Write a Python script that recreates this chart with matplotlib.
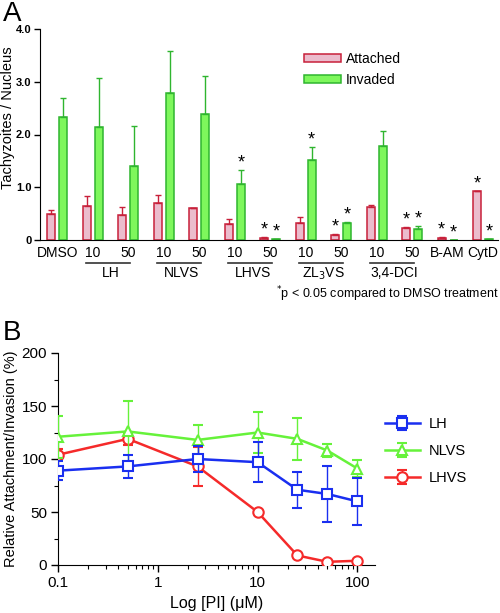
import matplotlib
matplotlib.use("Agg")
import matplotlib.pyplot as plt
import numpy as np
from matplotlib.ticker import MultipleLocator, LogLocator, NullFormatter, FixedLocator, FixedFormatter
import matplotlib.transforms as mtransforms

plt.rcParams['font.family'] = ['Liberation Sans', 'DejaVu Sans']

# ---- Panel A data ----
tick_labels = ["DMSO", "10", "50", "10", "50", "10", "50", "10", "50", "10", "50", "B-AM", "CytD"]
group_names = ["LH", "NLVS", "LHVS", "ZL$_3$VS", "3,4-DCI"]
group_start = [1, 3, 5, 7, 9]
attached = [0.49, 0.64, 0.47, 0.70, 0.60, 0.31, 0.04, 0.32, 0.09, 0.62, 0.22, 0.04, 0.92]
attached_err = [0.08, 0.20, 0.16, 0.16, 0.01, 0.08, 0.01, 0.11, 0.03, 0.05, 0.02, 0.01, 0.01]
invaded = [2.34, 2.15, 1.40, 2.79, 2.39, 1.06, 0.015, 1.52, 0.32, 1.79, 0.21, 0.005, 0.02]
invaded_err = [0.35, 0.92, 0.76, 0.80, 0.72, 0.27, 0.005, 0.24, 0.02, 0.27, 0.05, 0.0, 0.005]
attached_sig = [0, 0, 0, 0, 0, 0, 1, 0, 1, 0, 1, 1, 1]
invaded_sig = [0, 0, 0, 0, 0, 1, 1, 1, 1, 0, 1, 1, 1]

# ---- Panel B data ----
conc = [0.1, 0.5, 2.5, 10, 25, 50, 100]
lh = [89, 93, 100, 97, 71, 67, 60]
lh_err = [9, 11, 12, 19, 17, 26, 22]
nlvs = [121, 126, 118, 125, 119, 108, 91]
nlvs_err = [20, 29, 14, 19, 20, 6, 8]
lhvs = [104, 119, 93, 50, 9, 3, 4]
lhvs_err = [5, 6, 18, 2, 1, 1, 1]

att_face, att_edge = "#ebbccd", "#c8203a"
inv_face, inv_edge = "#7ef75c", "#2fb52f"

fig = plt.figure(figsize=(5.0, 6.13), dpi=100)

# ================= Panel A =================
ax1 = fig.add_axes([40/500, 1-240/613, 458/500, 211/613])
x = np.arange(len(tick_labels))
w = 0.23
off = 0.17
ax1.bar(x - off, attached, w, color=att_face, edgecolor=att_edge, linewidth=1.1,
        yerr=[np.zeros(len(x)), attached_err], error_kw=dict(ecolor=att_edge, elinewidth=1, capsize=2, capthick=1),
        label="Attached")
ax1.bar(x + off, invaded, w, color=inv_face, edgecolor=inv_edge, linewidth=1.1,
        yerr=[np.zeros(len(x)), invaded_err], error_kw=dict(ecolor=inv_edge, elinewidth=1, capsize=2, capthick=1),
        label="Invaded")

# significance stars
for i in range(len(x)):
    if attached_sig[i]:
        ax1.annotate("*", (x[i] - off, attached[i] + attached_err[i]), xytext=(0, -1),
                     textcoords="offset points", ha="center", va="bottom", fontsize=13)
    if invaded_sig[i]:
        ax1.annotate("*", (x[i] + off, invaded[i] + invaded_err[i]), xytext=(0, -1),
                     textcoords="offset points", ha="center", va="bottom", fontsize=13)

ax1.set_xlim(-0.49, 12.42)
ax1.set_ylim(0, 4.0)
ax1.set_yticks([0, 1, 2, 3, 4])
ax1.set_yticklabels(["0", "1.0", "2.0", "3.0", "4.0"], fontsize=8, fontweight="bold")
ax1.tick_params(axis="y", direction="out", length=4, width=1, pad=2)
ax1.set_xticks([])
for s in ["top", "right"]:
    ax1.spines[s].set_visible(False)
ax1.set_ylabel("Tachyzoites / Nucleus", fontsize=10.5)
ax1.yaxis.set_label_coords(-0.055, 0.58)

trans = mtransforms.blended_transform_factory(ax1.transData, ax1.transAxes)
for i, lab in enumerate(tick_labels):
    ax1.text(x[i], -0.062, lab, transform=trans, ha="center", va="center", fontsize=10)
for name, st in zip(group_names, group_start):
    ax1.plot([x[st] - 0.2, x[st + 1] + 0.05], [-0.11, -0.11], transform=trans,
             color="#333333", lw=1.2, clip_on=False)
    ax1.text((x[st] + x[st + 1]) / 2, -0.158, name, transform=trans, ha="center", va="center", fontsize=10)

ax1.legend(loc="upper left", bbox_to_anchor=(0.55, 0.95), frameon=False, fontsize=10,
           handlelength=2.6, handleheight=0.55, handletextpad=0.4, labelspacing=0.5)

fig.text(0.997, 1-294/613, "$^{*}$p < 0.05 compared to DMSO treatment", ha="right", va="center", fontsize=9)
fig.text(0.005, 1-14/613, "A", fontsize=20, ha="left", va="center")

# ================= Panel B =================
ax2 = fig.add_axes([58/500, 1-565/613, 317/500, 212/613])
eb = dict(elinewidth=1, capsize=3.5, capthick=1, linewidth=1.8, markersize=7.5,
          markerfacecolor="white", markeredgewidth=1.5)
h_lh = ax2.errorbar(conc, lh, yerr=lh_err, color="#1a2ff0", marker="s", label="LH", zorder=5, **eb)
h_nl = ax2.errorbar(conc, nlvs, yerr=nlvs_err, color="#66f23a", marker="^", label="NLVS", zorder=4, **eb)
h_lv = ax2.errorbar(conc, lhvs, yerr=lhvs_err, color="#f52a2a", marker="o", label="LHVS", zorder=3, **eb)

ax2.set_xscale("log")
ax2.set_xlim(0.1, 150)
ax2.set_ylim(0, 200)
ax2.xaxis.set_major_locator(FixedLocator([0.1, 1, 10, 100]))
ax2.xaxis.set_major_formatter(FixedFormatter(["0.1", "1", "10", "100"]))
ax2.xaxis.set_minor_locator(LogLocator(base=10, subs=np.arange(2, 10)))
ax2.xaxis.set_minor_formatter(NullFormatter())
ax2.yaxis.set_major_locator(MultipleLocator(50))
ax2.yaxis.set_minor_locator(MultipleLocator(25))
ax2.tick_params(which="major", direction="out", length=5, width=1, labelsize=11, pad=3)
ax2.tick_params(which="minor", direction="out", length=3, width=0.8)
for s in ["top", "right"]:
    ax2.spines[s].set_visible(False)
ax2.set_xlabel("Log [PI] (\u03bcM)", fontsize=11.5, labelpad=4)
ax2.set_ylabel("Relative Attachment/Invasion (%)", fontsize=10.5)
ax2.yaxis.set_label_coords(-0.125, 0.5)

ax2.legend([h_lh, h_nl, h_lv], ["LH", "NLVS", "LHVS"], loc="upper left",
           bbox_to_anchor=(0.99, 0.76), frameon=False, fontsize=10.5,
           handlelength=2.4, labelspacing=0.9, handletextpad=0.6)

fig.text(0.005, 1-333/613, "B", fontsize=20, ha="left", va="center")

fig.savefig("out.png", dpi=100)
